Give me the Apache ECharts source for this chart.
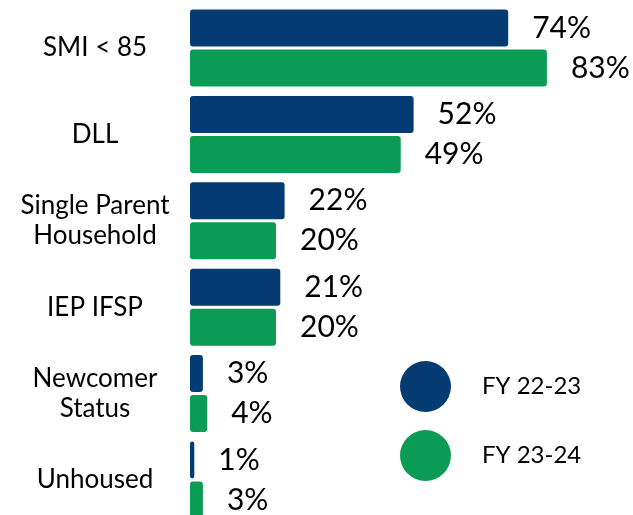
<!DOCTYPE html>
<html>
<head>
<meta charset="utf-8">
<script src="https://cdn.jsdelivr.net/npm/echarts@6/dist/echarts.min.js"></script>
<style>
  html, body { margin: 0; padding: 0; background: #fff; }
  #chart { width: 633px; height: 515px; }
</style>
</head>
<body>
<div id="chart"></div>
<script>
// 类别和数据
const categories = ['SMI < 85', 'DLL', 'Single Parent\nHousehold', 'IEP IFSP', 'Newcomer\nStatus', 'Unhoused']
const seriesNames = ['FY 22-23', 'FY 23-24']
const fy2223 = [74, 52, 22, 21, 3, 1]
const fy2324 = [83, 49, 20, 20, 4, 3]

const BLUE = '#033b72'
const GREEN = '#0a9c55'
const FONT = 'Lato'

const chart = echarts.init(document.getElementById('chart'))

function barSeries(name, data, color) {
  return {
    name: name,
    type: 'bar',
    data: data,
    barWidth: 37,
    barGap: '8%',
    itemStyle: {
      color: color,
      borderRadius: 3
    },
    label: {
      show: true,
      position: 'right',
      distance: 24,
      formatter: '{c}%',
      fontFamily: FONT,
      fontSize: 30,
      color: '#000'
    }
  }
}

const option = {
  animation: false,
  textStyle: { fontFamily: FONT },
  grid: {
    left: 190,
    top: 4.8,
    width: 430,
    height: 518.4,
    containLabel: false,
    outerBoundsMode: 'none'
  },
  legend: {
    orient: 'vertical',
    left: 400,
    top: 361,
    padding: 0,
    icon: 'circle',
    itemWidth: 51,
    itemHeight: 51,
    itemGap: 18,
    data: seriesNames,
    textStyle: {
      fontFamily: FONT,
      fontSize: 24,
      color: '#000',
      padding: [0, 0, 0, 26]
    }
  },
  xAxis: {
    type: 'value',
    min: 0,
    max: 100,
    show: false
  },
  yAxis: {
    type: 'category',
    inverse: true,
    data: categories,
    axisLine: { show: false },
    axisTick: { show: false },
    splitLine: { show: false },
    axisLabel: {
      fontFamily: FONT,
      fontSize: 26,
      lineHeight: 30,
      color: '#000',
      align: 'center',
      margin: 95
    }
  },
  series: [
    barSeries(seriesNames[0], fy2223, BLUE),
    barSeries(seriesNames[1], fy2324, GREEN)
  ]
}

chart.setOption(option)
</script>
</body>
</html>
